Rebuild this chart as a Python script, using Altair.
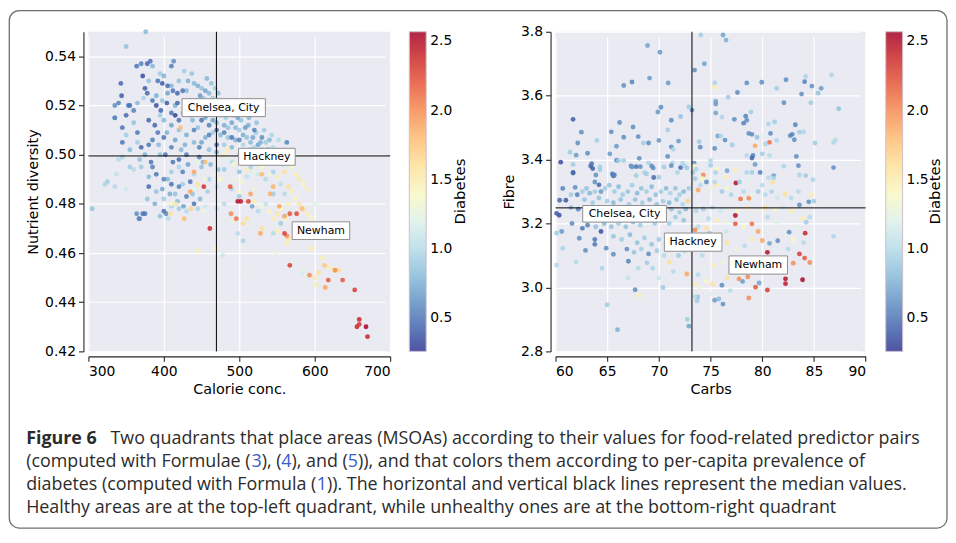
import altair as alt
import pandas as pd

# ---------------- data ----------------
# left panel: (calorie conc., nutrient diversity, diabetes)
left_dark = [
    (378,0.537,0.45),(382,0.538,0.5),(370,0.537,0.55),(364,0.536,0.5),(410,0.536,0.55),(413,0.538,0.6),
    (372,0.532,0.35),(343,0.529,0.45),(344,0.524,0.4),(355,0.520,0.5),(360,0.518,0.55),(375,0.527,0.4),
    (378,0.525,0.45),(392,0.530,0.5),(398,0.529,0.4),(405,0.528,0.45),(385,0.522,0.5),(390,0.520,0.35),
    (396,0.518,0.45),(404,0.521,0.4),(412,0.526,0.5),(418,0.525,0.45),(425,0.526,0.5),(415,0.516,0.3),
    (420,0.514,0.5),(388,0.512,0.45),(392,0.509,0.5),(385,0.506,0.55),(380,0.504,0.5),(370,0.503,0.45),
    (365,0.509,0.5),(345,0.511,0.5),(350,0.516,0.45),(400,0.507,0.5),(410,0.503,0.55),(412,0.497,0.5),
    (420,0.498,0.45),(430,0.500,0.55),(440,0.510,0.55),(450,0.514,0.5),(455,0.516,0.45),(460,0.512,0.55),
    (470,0.510,0.5),(480,0.509,0.55),(490,0.507,0.5),(500,0.506,0.55),(520,0.510,0.55),(530,0.507,0.6),
    (563,0.505,0.55),(383,0.497,0.5),(385,0.495,0.55),(390,0.492,0.5),(400,0.490,0.55),(410,0.488,0.5),
    (420,0.487,0.55),(400,0.477,0.5),(380,0.487,0.45),(372,0.476,0.5),(367,0.474,0.55),(375,0.476,0.5),
    (430,0.483,0.55),(440,0.480,0.5),(447,0.499,0.55),(380,0.514,0.45),(353,0.520,0.5),(340,0.521,0.55),
    (345,0.505,0.5),(335,0.515,0.55),(402,0.500,0.5),(425,0.493,0.55),(435,0.489,0.5),(460,0.508,0.55),
    (410,0.517,0.5),(418,0.521,0.45),(447,0.503,0.55),(470,0.504,0.5),
]
left_blue = [
    (440,0.529,0.8),(445,0.528,0.75),(450,0.527,0.85),(455,0.526,0.7),(460,0.525,0.8),(465,0.523,0.9),
    (470,0.522,0.75),(475,0.521,0.85),(430,0.526,0.8),(435,0.522,0.7),(445,0.520,0.9),(450,0.518,0.8),
    (455,0.515,0.75),(460,0.517,0.85),(465,0.514,0.7),(470,0.513,0.8),(475,0.516,0.9),(480,0.512,0.75),
    (485,0.511,0.85),(490,0.513,0.7),(495,0.511,0.8),(500,0.510,0.9),(505,0.508,0.75),(510,0.507,0.85),
    (515,0.505,0.8),(520,0.503,0.95),(525,0.504,0.7),(530,0.502,0.85),(535,0.505,0.9),(540,0.506,0.8),
    (545,0.503,1.0),(550,0.500,0.95),(540,0.498,1.05),(530,0.497,0.9),(520,0.499,1.0),(510,0.501,0.85),
    (500,0.500,0.95),(490,0.503,0.8),(480,0.504,0.9),(470,0.501,0.75),(460,0.502,0.85),(450,0.505,0.7),
    (440,0.505,0.8),(430,0.508,0.75),(420,0.510,0.85),(410,0.512,0.7),(400,0.514,0.8),(395,0.516,0.9),
    (390,0.524,0.75),(398,0.522,0.85),(405,0.525,0.7),(410,0.528,0.8),(400,0.532,0.75),(395,0.533,0.9),
    (385,0.536,0.8),(380,0.530,0.85),(373,0.523,0.95),(365,0.521,0.8),(360,0.513,0.85),(350,0.508,0.9),
    (340,0.498,1.0),(337,0.492,1.05),(325,0.489,0.9),(305,0.478,0.85),(345,0.499,0.95),(360,0.494,1.0),
    (370,0.495,0.9),(380,0.491,0.8),(390,0.485,0.85),(400,0.482,0.9),(410,0.479,0.95),(415,0.484,0.85),
    (425,0.488,0.9),(440,0.492,1.0),(450,0.495,0.85),(460,0.490,0.95),(470,0.487,1.05),(480,0.494,0.9),
    (490,0.497,1.0),(500,0.493,0.85),(510,0.491,1.05),(515,0.495,0.95),(525,0.492,1.1),(535,0.490,1.0),
    (545,0.493,0.95),(555,0.488,1.05),(560,0.484,1.0),(545,0.484,0.9),(535,0.480,1.05),(525,0.477,1.0),
    (500,0.483,0.9),(490,0.486,0.95),(480,0.480,1.0),(470,0.478,1.05),(455,0.479,1.1),(445,0.478,0.95),
    (430,0.477,1.0),(420,0.478,0.9),(395,0.475,0.85),(405,0.490,0.8),(428,0.504,0.75),(438,0.514,0.8),
    (442,0.522,0.7),(452,0.523,0.85),(462,0.519,0.8),(472,0.518,0.75),(482,0.515,0.9),(492,0.516,0.8),
    (502,0.514,0.85),(512,0.512,0.75),(522,0.509,0.9),(515,0.502,0.8),(505,0.504,0.95),(495,0.506,0.75),
    (485,0.507,0.85),(475,0.508,0.8),(465,0.509,0.9),(455,0.507,0.75),(445,0.511,0.85),(435,0.516,0.8),
    (425,0.517,0.9),(415,0.520,0.75),(420,0.530,0.85),(432,0.530,0.75),(365,0.505,0.9),(355,0.502,0.8),
    (395,0.500,0.85),(410,0.493,0.9),(420,0.495,0.95),(498,0.468,1.0),(505,0.465,0.95),(478,0.459,1.1),
    (545,0.468,1.0),(555,0.472,0.9),(560,0.475,0.95),(580,0.472,1.05),(587,0.471,1.1),(583,0.452,1.15),
    (335,0.487,1.0),(350,0.486,1.1),(350,0.544,0.85),(376,0.550,0.8),(335,0.520,0.6),(335,0.515,0.65),
    (322,0.488,0.95),(364,0.476,0.6),(368,0.474,0.65),(403,0.476,0.6),(406,0.474,1.0),(426,0.479,0.7),
    (517,0.479,0.7),(448,0.524,0.65),(458,0.521,0.7),(468,0.519,0.65),(478,0.520,0.7),(488,0.518,0.75),
    (498,0.515,0.7),(508,0.511,0.65),(518,0.507,0.7),(528,0.505,0.75),(538,0.502,0.7),(548,0.498,0.9),
    (558,0.496,1.0),(468,0.527,0.9),(463,0.529,0.85),(472,0.525,0.8),(483,0.522,0.85),(493,0.520,0.9),
    (503,0.518,0.75),(513,0.515,0.8),(523,0.513,0.85),(533,0.510,0.9),(543,0.508,0.95),(552,0.506,1.0),
    (457,0.531,0.8),(427,0.534,0.9),(437,0.533,0.85),(452,0.497,0.75),(462,0.496,0.8),(472,0.494,0.85),
    (432,0.496,0.7),(423,0.502,0.8),(415,0.506,0.7),(404,0.509,0.75),(393,0.504,0.8),(375,0.500,0.75),
    (368,0.498,0.85),(355,0.495,0.9),(378,0.482,0.85),(388,0.480,0.75),(398,0.486,0.7),(408,0.484,0.75),
    (418,0.481,0.8),(438,0.484,0.85),(458,0.485,0.9),(448,0.482,0.8),
]
left_pale = [
    (470,0.499,1.3),(480,0.500,1.5),(485,0.498,1.2),(492,0.496,1.4),(500,0.497,1.3),(510,0.494,1.5),
    (520,0.493,1.25),(530,0.495,1.4),(540,0.492,1.3),(550,0.491,1.5),(560,0.493,1.6),(570,0.495,1.4),
    (575,0.492,1.5),(580,0.490,1.55),(585,0.488,1.45),(590,0.486,1.5),(565,0.487,1.6),(570,0.485,1.5),
    (575,0.482,1.45),(580,0.480,1.55),(585,0.478,1.6),(590,0.476,1.5),(595,0.474,1.45),(565,0.480,1.5),
    (555,0.478,1.4),(550,0.476,1.55),(545,0.474,1.5),(540,0.477,1.45),(530,0.479,1.3),(520,0.481,1.5),
    (510,0.474,1.6),(505,0.472,1.65),(530,0.470,1.6),(550,0.469,1.5),(565,0.466,1.6),(595,0.462,1.5),
    (610,0.458,1.5),(620,0.454,1.5),(625,0.453,1.55),(632,0.453,1.6),(605,0.452,1.6),(600,0.450,1.55),
    (590,0.451,1.3),(503,0.489,1.35),(495,0.490,1.3),(440,0.486,1.25),(445,0.488,1.6),(455,0.490,1.3),
    (410,0.480,1.4),(409,0.476,1.6),(416,0.480,1.55),(436,0.478,1.7),(452,0.477,1.3),(445,0.461,1.5),
    (469,0.462,1.4),(549,0.460,1.3),(500,0.485,1.4),(490,0.473,1.3),(575,0.470,1.5),(560,0.474,1.4),
    (430,0.522,1.3),(445,0.497,1.25),(485,0.502,1.5),(520,0.486,1.3),(563,0.464,1.5),(600,0.480,1.2),
    (514,0.452,1.2),(584,0.453,1.2),(602,0.447,1.5),(634,0.471,1.4),(467,0.492,1.3),(475,0.490,1.4),
]
left_orange = [
    (455,0.497,1.8),(440,0.493,1.9),(435,0.485,1.9),(427,0.474,1.8),(489,0.476,2.0),(496,0.474,2.1),
    (515,0.484,1.9),(545,0.487,1.85),(553,0.479,1.9),(560,0.475,1.9),(563,0.467,2.0),(528,0.468,1.9),
    (583,0.478,1.8),(593,0.451,2.0),(627,0.453,2.0),(614,0.446,1.9),(530,0.492,1.8),(422,0.511,1.8),
    (541,0.484,1.85),(613,0.455,1.75),
]
left_red = [
    (453,0.487,2.35),(461,0.470,2.4),(488,0.487,2.2),(498,0.481,2.5),(502,0.481,2.45),(512,0.481,2.3),
    (560,0.468,2.3),(567,0.455,2.3),(567,0.476,2.2),(576,0.476,2.25),(618,0.449,2.2),(637,0.449,2.2),
    (653,0.445,2.3),(659,0.433,2.4),(656,0.430,2.4),(659,0.431,2.35),(668,0.430,2.55),(670,0.426,2.4),
]

# right panel: (carbs, fibre, diabetes)
right_upper = [
    (74.06,3.79,0.9),(76.2,3.79,0.7),(76.5,3.774,0.75),(68.9,3.757,0.7),(70.1,3.736,0.65),(73.45,3.68,0.6),
    (74.4,3.70,0.7),(66.6,3.632,0.6),(67.4,3.643,0.55),(69.1,3.655,0.65),(70.9,3.64,0.65),(75.4,3.64,0.95),
    (75.4,3.627,1.5),(77.6,3.61,0.6),(78.5,3.64,0.6),(79.95,3.642,0.6),(81.4,3.623,0.9),(82.3,3.65,0.6),
    (84.1,3.644,0.55),(84.2,3.66,0.95),(84.8,3.63,0.6),(85.7,3.623,0.65),(85.4,3.608,0.85),(83.8,3.605,0.6),
    (86.7,3.665,0.95),(76.7,3.595,0.9),(75.5,3.583,0.7),(75.5,3.574,0.65),(75.5,3.546,0.7),(76.1,3.533,0.95),
    (82.1,3.578,0.6),(84.7,3.578,0.9),(87.4,3.559,0.85),(78.4,3.536,0.55),(78.5,3.523,0.6),(78.2,3.514,0.55),
    (77.3,3.526,0.6),(78.9,3.549,0.9),(80.6,3.512,0.95),(81.2,3.518,0.9),(83.2,3.509,0.55),(80.8,3.482,0.6),
    (81.4,3.46,0.95),(82.7,3.475,0.6),(82.9,3.479,0.55),(83.1,3.462,0.6),(83.6,3.486,0.9),(84.0,3.487,0.95),
    (85.1,3.452,0.9),(86.9,3.454,0.95),(87.1,3.461,1.0),(79.0,3.479,0.6),(78.7,3.482,0.6),(79.5,3.47,0.85),
    (80.0,3.473,1.2),(79.3,3.443,1.9),(80.7,3.454,2.1),(80.3,3.449,0.95),(76.4,3.461,0.6),(75.7,3.474,0.7),
    (76.0,3.474,0.95),(77.1,3.446,0.9),(75.4,3.435,0.6),(78.5,3.413,1.0),(79.1,3.413,0.55),(79.0,3.405,0.45),
    (80.0,3.418,0.9),(80.7,3.413,1.0),(83.3,3.41,0.6),(86.9,3.375,0.6),(75.0,3.397,0.95),(75.0,3.382,0.9),
    (76.6,3.365,0.7),(77.45,3.367,1.5),(75.6,3.37,1.4),(75.5,3.36,0.95),(78.5,3.36,0.95),(79.0,3.36,0.9),
    (79.3,3.385,0.65),(79.8,3.36,0.55),(81.1,3.35,0.7),(80.6,3.343,1.0),(81.1,3.342,0.95),(77.45,3.327,2.5),
    (82.1,3.379,0.95),(83.5,3.381,0.6),(83.6,3.352,0.95),(84.2,3.350,0.9),(84.9,3.337,0.95),
    (61.7,3.526,0.4),(62.5,3.486,0.6),(62.15,3.452,0.6),(61.4,3.423,0.9),(62.0,3.414,0.65),(63.1,3.42,0.6),
    (64.0,3.46,0.9),(65.4,3.487,0.6),(66.2,3.516,0.6),(66.6,3.47,0.6),(65.9,3.442,0.65),(67.5,3.502,0.6),
    (68.0,3.472,0.6),(68.5,3.452,0.9),(69.0,3.452,0.6),(70.0,3.46,0.65),(70.2,3.564,0.6),(69.9,3.549,0.65),
    (73.2,3.555,0.6),(72.9,3.565,0.9),(71.2,3.523,0.6),(72.1,3.535,0.85),(70.85,3.493,0.9),(71.2,3.44,0.6),
    (71.4,3.432,0.95),(71.9,3.458,0.65),(73.9,3.456,0.9),(74.0,3.439,0.6),(74.3,3.352,2.0),(73.8,3.305,1.9),
    (65.25,3.418,0.65),(65.9,3.398,0.6),(66.1,3.397,0.9),(66.6,3.397,0.9),(60.5,3.392,0.35),(61.7,3.385,0.9),
    (61.7,3.358,0.45),(63.4,3.38,0.45),(63.6,3.372,0.4),(63.5,3.387,0.5),(64.3,3.377,0.9),(64.3,3.368,0.9),
    (63.9,3.352,0.6),(64.2,3.321,0.45),(63.8,3.33,0.6),(65.6,3.349,0.45),(65.5,3.355,0.5),(65.7,3.352,0.55),
    (67.3,3.38,0.6),(67.4,3.377,0.65),(67.8,3.378,0.5),(68.2,3.378,0.6),(67.8,3.35,0.9),(68.1,3.404,0.6),
    (68.6,3.36,0.95),(68.8,3.355,0.9),(69.0,3.39,0.95),(69.3,3.38,0.6),(69.45,3.374,0.6),(69.5,3.344,0.45),
    (70.0,3.345,0.9),(70.5,3.377,0.9),(70.85,3.41,0.6),(71.3,3.39,0.95),(71.2,3.381,0.6),(71.8,3.36,0.95),
    (72.1,3.375,0.45),(72.5,3.38,1.0),(72.3,3.388,0.95),(72.7,3.374,0.9),(73.3,3.36,0.9),(73.4,3.389,0.6),
    (73.4,3.38,1.4),(73.6,3.37,0.95),
]
right_lower_left = [
    (60.4,3.273,0.45),(61.0,3.273,0.4),(60.7,3.31,0.55),(61.7,3.36,0.45),(61.9,3.313,0.6),(62.1,3.29,0.55),
    (61.5,3.29,0.9),(62.6,3.30,0.9),(63.0,3.31,0.85),(63.3,3.295,0.8),(63.8,3.30,0.9),(64.4,3.30,0.65),
    (64.8,3.31,0.9),(65.2,3.32,0.85),(65.7,3.30,0.9),(66.1,3.315,0.8),(66.5,3.29,0.9),(67.0,3.30,0.85),
    (67.4,3.32,0.9),(67.9,3.295,0.8),(68.3,3.31,0.85),(68.8,3.30,0.9),(69.3,3.315,0.8),(69.7,3.29,0.85),
    (70.2,3.30,0.9),(70.7,3.31,0.8),(71.1,3.295,0.95),(71.6,3.31,0.85),(72.0,3.29,0.9),(72.4,3.30,0.8),
    (72.9,3.31,0.9),(62.8,3.275,0.85),(63.6,3.265,0.9),(64.2,3.28,0.85),(65.0,3.27,0.9),(65.6,3.265,0.8),
    (66.3,3.275,0.85),(67.1,3.26,0.9),(67.7,3.275,0.85),(68.4,3.265,0.9),(69.1,3.275,0.8),(69.8,3.26,0.85),
    (70.4,3.27,0.9),(71.0,3.265,0.8),(71.7,3.275,0.85),(72.3,3.26,0.95),(72.8,3.27,1.7),(61.5,3.25,0.8),
    (62.2,3.245,0.55),(63.0,3.24,0.85),(70.3,3.24,0.9),(71.2,3.245,0.85),(72.0,3.235,0.9),(72.6,3.245,0.8),
    (71.6,3.22,0.9),(72.4,3.21,0.85),(71.0,3.20,0.9),(70.4,3.215,0.8),(69.6,3.20,0.9),(68.9,3.21,0.85),
    (68.2,3.195,0.9),(67.5,3.205,0.8),(66.8,3.19,0.85),(66.1,3.20,0.9),(65.4,3.19,0.85),(64.7,3.20,0.8),
    (63.9,3.19,0.85),(63.1,3.195,0.55),(62.6,3.185,0.5),(61.6,3.2,0.6),(60.35,3.226,0.35),(60.1,3.232,0.4),
    (60.6,3.175,0.65),(60.1,3.17,0.9),(60.7,3.123,0.95),(60.1,3.07,0.95),(62.3,3.154,0.6),(62.9,3.116,0.6),
    (63.8,3.135,0.5),(63.8,3.15,0.5),(64.4,3.175,0.35),(64.9,3.123,0.6),(65.6,3.104,0.6),(67.05,3.082,0.55),
    (68.85,3.077,0.9),(67.7,2.993,0.6),(68.1,2.976,1.5),(65.0,2.946,0.9),(66.0,2.868,0.75),(65.6,3.16,0.85),
    (66.4,3.15,0.9),(67.2,3.165,0.8),(67.9,3.14,0.85),(68.6,3.155,0.9),(69.3,3.135,0.85),(70.0,3.15,0.9),
    (70.7,3.135,0.8),(71.4,3.155,0.95),(72.1,3.14,0.9),(72.6,3.16,1.0),(66.9,3.12,0.6),(67.6,3.11,0.85),
    (68.3,3.12,0.9),(69.0,3.105,0.6),(69.8,3.115,0.9),(70.5,3.10,1.0),(71.2,3.12,0.85),(71.9,3.10,0.9),
    (72.5,3.115,0.95),(69.4,3.06,0.95),(70.4,3.0,0.9),(71.0,3.08,1.6),(72.7,3.042,1.9),(71.4,3.05,1.0),
    (70.0,3.03,1.1),(73.7,2.958,0.9),(73.75,2.97,0.85),(72.75,2.90,0.9),(72.9,2.879,0.7),(68.0,3.06,1.0),
    (67.0,3.03,1.05),(64.5,3.06,0.95),(62.0,3.08,1.0),(66.0,3.25,0.8),(65.0,3.235,0.85),(64.0,3.225,0.9),
    (69.0,3.24,0.85),(68.0,3.235,0.9),
]
right_lower_right = [
    (73.5,3.34,0.9),(74.0,3.32,1.0),(74.6,3.33,0.6),(75.0,3.31,1.3),(75.6,3.32,1.5),(76.1,3.30,0.9),
    (76.6,3.31,1.4),(77.0,3.29,0.95),(77.9,3.277,2.1),(78.7,3.279,2.0),(78.2,3.30,1.0),(79.0,3.29,1.3),
    (79.6,3.30,0.9),(80.3,3.29,1.0),(80.9,3.30,0.95),(81.5,3.28,1.1),(82.2,3.292,1.6),(82.8,3.28,1.0),
    (83.6,3.258,0.6),(84.5,3.268,0.6),(83.9,3.216,1.5),(84.25,3.204,0.9),(82.9,3.24,1.5),(82.0,3.25,1.1),
    (81.2,3.245,1.4),(80.3,3.25,1.6),(79.5,3.24,1.3),(78.6,3.25,1.5),(77.6,3.24,1.4),(76.8,3.25,1.2),
    (76.0,3.24,1.1),(75.2,3.25,1.0),(74.3,3.245,0.9),(73.6,3.24,0.95),(74.0,3.22,1.2),(74.8,3.215,1.0),
    (75.6,3.21,1.5),(76.4,3.205,1.3),(77.4,3.225,2.5),(77.4,3.199,2.2),(79.0,3.199,2.1),(79.6,3.175,1.9),
    (78.2,3.19,1.4),(80.5,3.22,1.0),(81.4,3.205,1.2),(82.6,3.173,0.6),(81.5,3.146,0.6),(80.7,3.138,0.7),
    (80.0,3.147,1.9),(80.5,3.11,2.5),(83.6,3.105,2.3),(84.1,3.092,2.2),(84.6,3.078,2.0),(83.0,3.076,2.0),
    (84.15,3.17,2.4),(86.9,3.16,0.95),(82.25,3.027,2.5),(82.25,3.012,2.45),(83.9,3.024,2.55),(80.5,2.992,2.3),
    (79.35,3.001,2.2),(78.7,2.967,2.0),(79.7,3.014,0.7),(78.1,3.019,0.65),(76.1,3.007,0.6),(76.2,2.948,0.6),
    (75.4,2.96,0.65),(75.8,2.964,0.8),(78.6,3.033,2.0),(77.75,3.027,2.0),(73.45,3.01,1.5),(74.0,3.0,1.3),
    (74.6,3.02,1.4),(75.2,3.01,1.6),(73.8,3.04,1.0),(74.5,3.06,1.2),(75.3,3.07,1.5),(76.2,3.08,1.3),
    (77.0,3.06,1.0),(77.8,3.05,1.4),(76.6,3.03,1.6),(74.2,3.10,1.0),(75.0,3.12,1.4),(75.8,3.13,1.2),
    (76.6,3.14,1.6),(77.5,3.12,1.3),(78.3,3.13,1.0),(79.0,3.15,1.5),(73.6,3.14,1.1),(74.2,3.16,1.3),
    (74.9,3.17,0.9),(75.7,3.165,1.5),(76.5,3.175,1.1),(73.8,3.19,1.0),(74.6,3.185,1.6),(73.5,3.18,2.0),
    (73.5,3.165,1.0),(80.2,3.08,1.0),(81.0,3.06,0.95),(79.6,3.07,1.4),(76.9,2.99,1.0),(75.0,2.98,1.2),
    (73.5,2.97,1.0),(81.8,3.09,1.5),(82.5,3.12,1.0),(83.0,3.15,1.4),(84.0,3.14,1.0),(83.4,3.19,1.2),
    (84.6,3.22,1.0),(85.0,3.27,0.9),(84.8,3.29,1.5),(83.5,3.30,1.0),(81.0,3.33,1.6),(80.0,3.32,1.0),
    (78.8,3.34,1.2),(77.8,3.33,0.9),(76.5,3.345,1.5),(75.4,3.33,1.0),(74.2,3.34,1.4),
]

# medians (black lines)
left_median = (469.7, 0.4995)
right_median = (73.2, 3.249)

# annotated areas: name, box x-from, x-to, y-from, y-to (data units)
left_notes = [("Chelsea, City", 424.1, 534.6, 0.5155, 0.5228),
              ("Hackney", 499.1, 574.1, 0.4957, 0.5026),
              ("Newham", 570.1, 646.4, 0.4655, 0.4727)]
right_notes = [("Chelsea, City", 62.63, 70.73, 3.2045, 3.2564),
               ("Hackney", 70.53, 76.10, 3.1133, 3.1703),
               ("Newham", 76.78, 82.44, 3.0418, 3.0987)]

left_x_ticks = [300, 400, 500, 600, 700]
left_y_ticks = [0.42, 0.44, 0.46, 0.48, 0.50, 0.52, 0.54]
right_x_ticks = [60, 65, 70, 75, 80, 85, 90]
right_y_ticks = [2.8, 3.0, 3.2, 3.4, 3.6, 3.8]
colorbar_ticks = [0.5, 1.0, 1.5, 2.0, 2.5]

caption_line1 = "Two quadrants that place areas (MSOAs) according to their values for food-related predictor pairs"
caption_line2 = ["(computed with Formulae (", "3", "), (", "4", "), and (", "5",
                 ")), and that colors them according to per-capita prevalence of"]
caption_line3 = ["diabetes (computed with Formula (", "1",
                 ")). The horizontal and vertical black lines represent the median values."]
caption_line4 = "Healthy areas are at the top-left quadrant, while unhealthy ones are at the bottom-right quadrant"

# ---------------- chart ----------------
FONT = "DejaVu Sans"
CAP_FONT = "Open Sans"
CAP_SIZE = 18
CAP_COLOR = "#2b2b2b"
LINK = "#3a5bc9"
ONE = pd.DataFrame({"a": [0]})


def to_df(*groups):
    return pd.DataFrame([{"x": a, "y": b, "d": c} for g in groups for (a, b, c) in g])


def notes_df(notes):
    return pd.DataFrame([{"name": n, "x": x1, "x2": x2, "y": y1, "y2": y2} for (n, x1, x2, y1, y2) in notes])


color_scale = alt.Scale(scheme="redyellowblue", reverse=True, domain=[0.26, 2.57])


def panel(df, W, H, xdom, xticks, xtitle, xfmt, ydom, yticks, ytitle, yfmt, med, notes, leg_x, lab_x):
    xs = alt.X("x:Q", scale=alt.Scale(domain=xdom, nice=False, zero=False),
               axis=alt.Axis(values=xticks, title=xtitle, format=xfmt))
    ys = alt.Y("y:Q", scale=alt.Scale(domain=ydom, nice=False, zero=False),
               axis=alt.Axis(values=yticks, title=ytitle, format=yfmt))
    legend = alt.Legend(orient="none", legendX=leg_x, legendY=0, direction="vertical",
                        gradientLength=H, gradientThickness=17, title=None,
                        values=colorbar_ticks, format=".1f", labelFont=FONT, labelFontSize=14,
                        labelColor="black", labelOverlap=False, labelOffset=4,
                        gradientStrokeColor="#c7b4c2", gradientStrokeWidth=1)
    pts = alt.Chart(df).mark_circle(size=24, opacity=0.85).encode(
        x=xs, y=ys, color=alt.Color("d:Q", scale=color_scale, legend=legend))
    vrule = alt.Chart(pd.DataFrame({"x": [med[0]]})).mark_rule(color="black", strokeWidth=1).encode(x=xs)
    hrule = alt.Chart(pd.DataFrame({"y": [med[1]]})).mark_rule(color="black", strokeWidth=1).encode(y=ys)
    nd = notes_df(notes)
    boxes = alt.Chart(nd).mark_rect(fill="white", stroke="#8f8f8f", strokeWidth=1).encode(
        x=xs, x2="x2:Q", y=ys, y2="y2:Q")
    texts = alt.Chart(nd).transform_calculate(
        x="(datum.x + datum.x2) / 2", y="(datum.y + datum.y2) / 2"
    ).mark_text(font=FONT, fontSize=11, color="black").encode(x=xs, y=ys, text="name:N")
    cbar_title = alt.Chart(ONE).mark_text(angle=270, font=FONT, fontSize=15, color="black").encode(
        x=alt.value(lab_x), y=alt.value(H / 2), text=alt.value("Diabetes"))
    return [pts, vrule, hrule, boxes, texts, cbar_title]


LW, LH = 304, 322
RW, RH = 312.4, 322

left_layers = panel(to_df(left_blue, left_pale, left_dark, left_orange, left_red), LW, LH,
                    [300, 700], left_x_ticks, "Calorie conc.", "d",
                    [0.42, 0.55], left_y_ticks, "Nutrient diversity", ".2f",
                    left_median, left_notes, 323.3, 374.3)
right_layers = panel(to_df(right_lower_left, right_upper, right_lower_right), RW, RH,
                     [60, 90], right_x_ticks, "Carbs", "d",
                     [2.8, 3.8], right_y_ticks, "Fibre", ".1f",
                     right_median, right_notes, 332.7, 382.7)

# figure frame and caption (positioned relative to the left plot area)
frame = alt.Chart(ONE).mark_rect(fillOpacity=0, stroke="#6e6e6e", strokeWidth=1.3, cornerRadius=10).encode(
    x=alt.value(-79.7), x2=alt.value(865), y=alt.value(-21.3), y2=alt.value(500))


def seg(txt, px, py, color=CAP_COLOR, weight="normal"):
    return alt.Chart(ONE).mark_text(align="left", baseline="middle", font=CAP_FONT, fontSize=CAP_SIZE,
                                    color=color, fontWeight=weight).encode(
        x=alt.value(px), y=alt.value(py), text=alt.value(txt))


X0 = -62.7
D2 = 3.0   # small shift of the line-2 pieces
caption = [
    seg("Figure 6", X0, 410.7, weight="bold"),
    seg(caption_line1, 22.3, 410.7),
    seg(caption_line2[0], X0, 433.7),
    seg(caption_line2[1], 161.3 + D2, 433.7, LINK),
    seg(caption_line2[2], 171.6 + D2, 433.7),
    seg(caption_line2[3], 191.4 + D2, 433.7, LINK),
    seg(caption_line2[4], 201.7 + D2, 433.7),
    seg(caption_line2[5], 258.3 + D2, 433.7, LINK),
    seg(caption_line2[6], 268.6 + D2, 433.7),
    seg(caption_line3[0], X0, 456.7),
    seg(caption_line3[1], 230.0, 456.7, LINK),
    seg(caption_line3[2], 240.3, 456.7),
    seg(caption_line4, X0, 479.7),
]

left = alt.layer(*left_layers, frame, *caption).properties(width=LW, height=LH)
right = alt.layer(*right_layers).properties(width=RW, height=RH)

chart = alt.hconcat(left, right, spacing=166.6, bounds="flush").resolve_scale(
    color="independent"
).properties(padding=0, background="white").configure_view(
    stroke=None, fill="#EAEAF2"
).configure_axis(
    domainColor="#262626", domainWidth=1.1, tickColor="#262626", tickWidth=1.1, tickSize=5,
    labelFont=FONT, labelFontSize=14, labelColor="black", labelPadding=3,
    titleFont=FONT, titleFontSize=14.5, titleFontWeight="normal", titleColor="black", titlePadding=4,
    gridColor="white", gridWidth=1.2, offset=5
)

chart.save("out.html", embed_options={"renderer": "svg", "actions": False})
